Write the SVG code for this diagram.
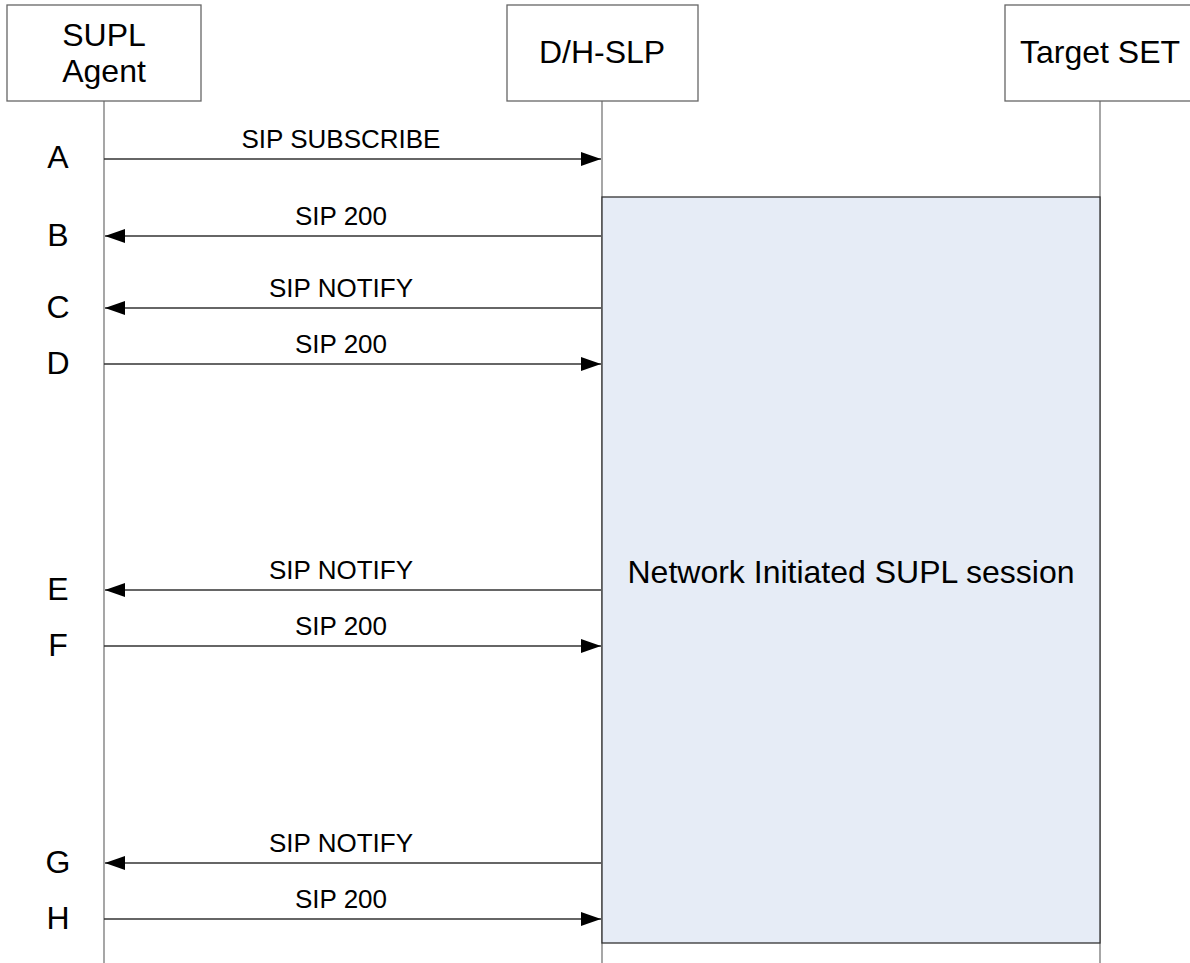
<svg xmlns="http://www.w3.org/2000/svg" width="1190" height="963" viewBox="0 0 1190 963">
<style>
text{font-family:"Liberation Sans",Arial,sans-serif;fill:#000}
.hdr{font-size:32px;text-anchor:middle}
.lbl{font-size:26px;text-anchor:middle}
.let{font-size:32px;text-anchor:middle}
.box{fill:#fff;stroke:#666;stroke-width:1.3}
.life{stroke:#777;stroke-width:1.3;fill:none}
.msg{stroke:#333;stroke-width:1.3;fill:none}
</style>
<defs>
<marker id="ah" markerWidth="20" markerHeight="14" refX="20" refY="7" orient="auto" markerUnits="userSpaceOnUse">
<path d="M0,0 L20,7 L0,14 Z" fill="#000"/>
</marker>
</defs>
<g id="lifelines">
<line class="life" x1="104" y1="101" x2="104" y2="963"/>
<line class="life" x1="602" y1="101" x2="602" y2="963"/>
<line class="life" x1="1100" y1="101" x2="1100" y2="963"/>
</g>
<g id="session">
<rect x="602" y="197" width="498" height="746" fill="#E6ECF6" stroke="#333" stroke-width="1.3"/>
<text x="851" y="583" style="font-size:32px;text-anchor:middle">Network Initiated SUPL session</text>
</g>
<g id="supl-agent">
<rect class="box" x="7" y="5" width="194" height="96"/>
<text class="hdr" x="104" y="46">SUPL</text>
<text class="hdr" x="104" y="82">Agent</text>
</g>
<g id="dh-slp">
<rect class="box" x="507" y="5" width="191" height="96"/>
<text class="hdr" x="602" y="63">D/H-SLP</text>
</g>
<g id="target-set">
<rect class="box" x="1005" y="5" width="190" height="96"/>
<text class="hdr" x="1100" y="63">Target SET</text>
</g>
<g id="connectors">
<line class="msg" x1="104" y1="159" x2="601" y2="159" marker-end="url(#ah)"/>
<line class="msg" x1="601" y1="236" x2="105" y2="236" marker-end="url(#ah)"/>
<line class="msg" x1="601" y1="308" x2="105" y2="308" marker-end="url(#ah)"/>
<line class="msg" x1="104" y1="364" x2="601" y2="364" marker-end="url(#ah)"/>
<line class="msg" x1="601" y1="590" x2="105" y2="590" marker-end="url(#ah)"/>
<line class="msg" x1="104" y1="646" x2="601" y2="646" marker-end="url(#ah)"/>
<line class="msg" x1="601" y1="863" x2="105" y2="863" marker-end="url(#ah)"/>
<line class="msg" x1="104" y1="919" x2="601" y2="919" marker-end="url(#ah)"/>
</g>
<g id="labels">
<text class="lbl" x="341" y="148">SIP SUBSCRIBE</text>
<text class="lbl" x="341" y="225">SIP 200</text>
<text class="lbl" x="341" y="297">SIP NOTIFY</text>
<text class="lbl" x="341" y="353">SIP 200</text>
<text class="lbl" x="341" y="579">SIP NOTIFY</text>
<text class="lbl" x="341" y="635">SIP 200</text>
<text class="lbl" x="341" y="852">SIP NOTIFY</text>
<text class="lbl" x="341" y="908">SIP 200</text>
</g>
<g id="steps">
<text class="let" x="58" y="168">A</text>
<text class="let" x="58" y="246">B</text>
<text class="let" x="58" y="318">C</text>
<text class="let" x="58" y="374">D</text>
<text class="let" x="58" y="600">E</text>
<text class="let" x="58" y="656">F</text>
<text class="let" x="58" y="873">G</text>
<text class="let" x="58" y="929">H</text>
</g>
</svg>
